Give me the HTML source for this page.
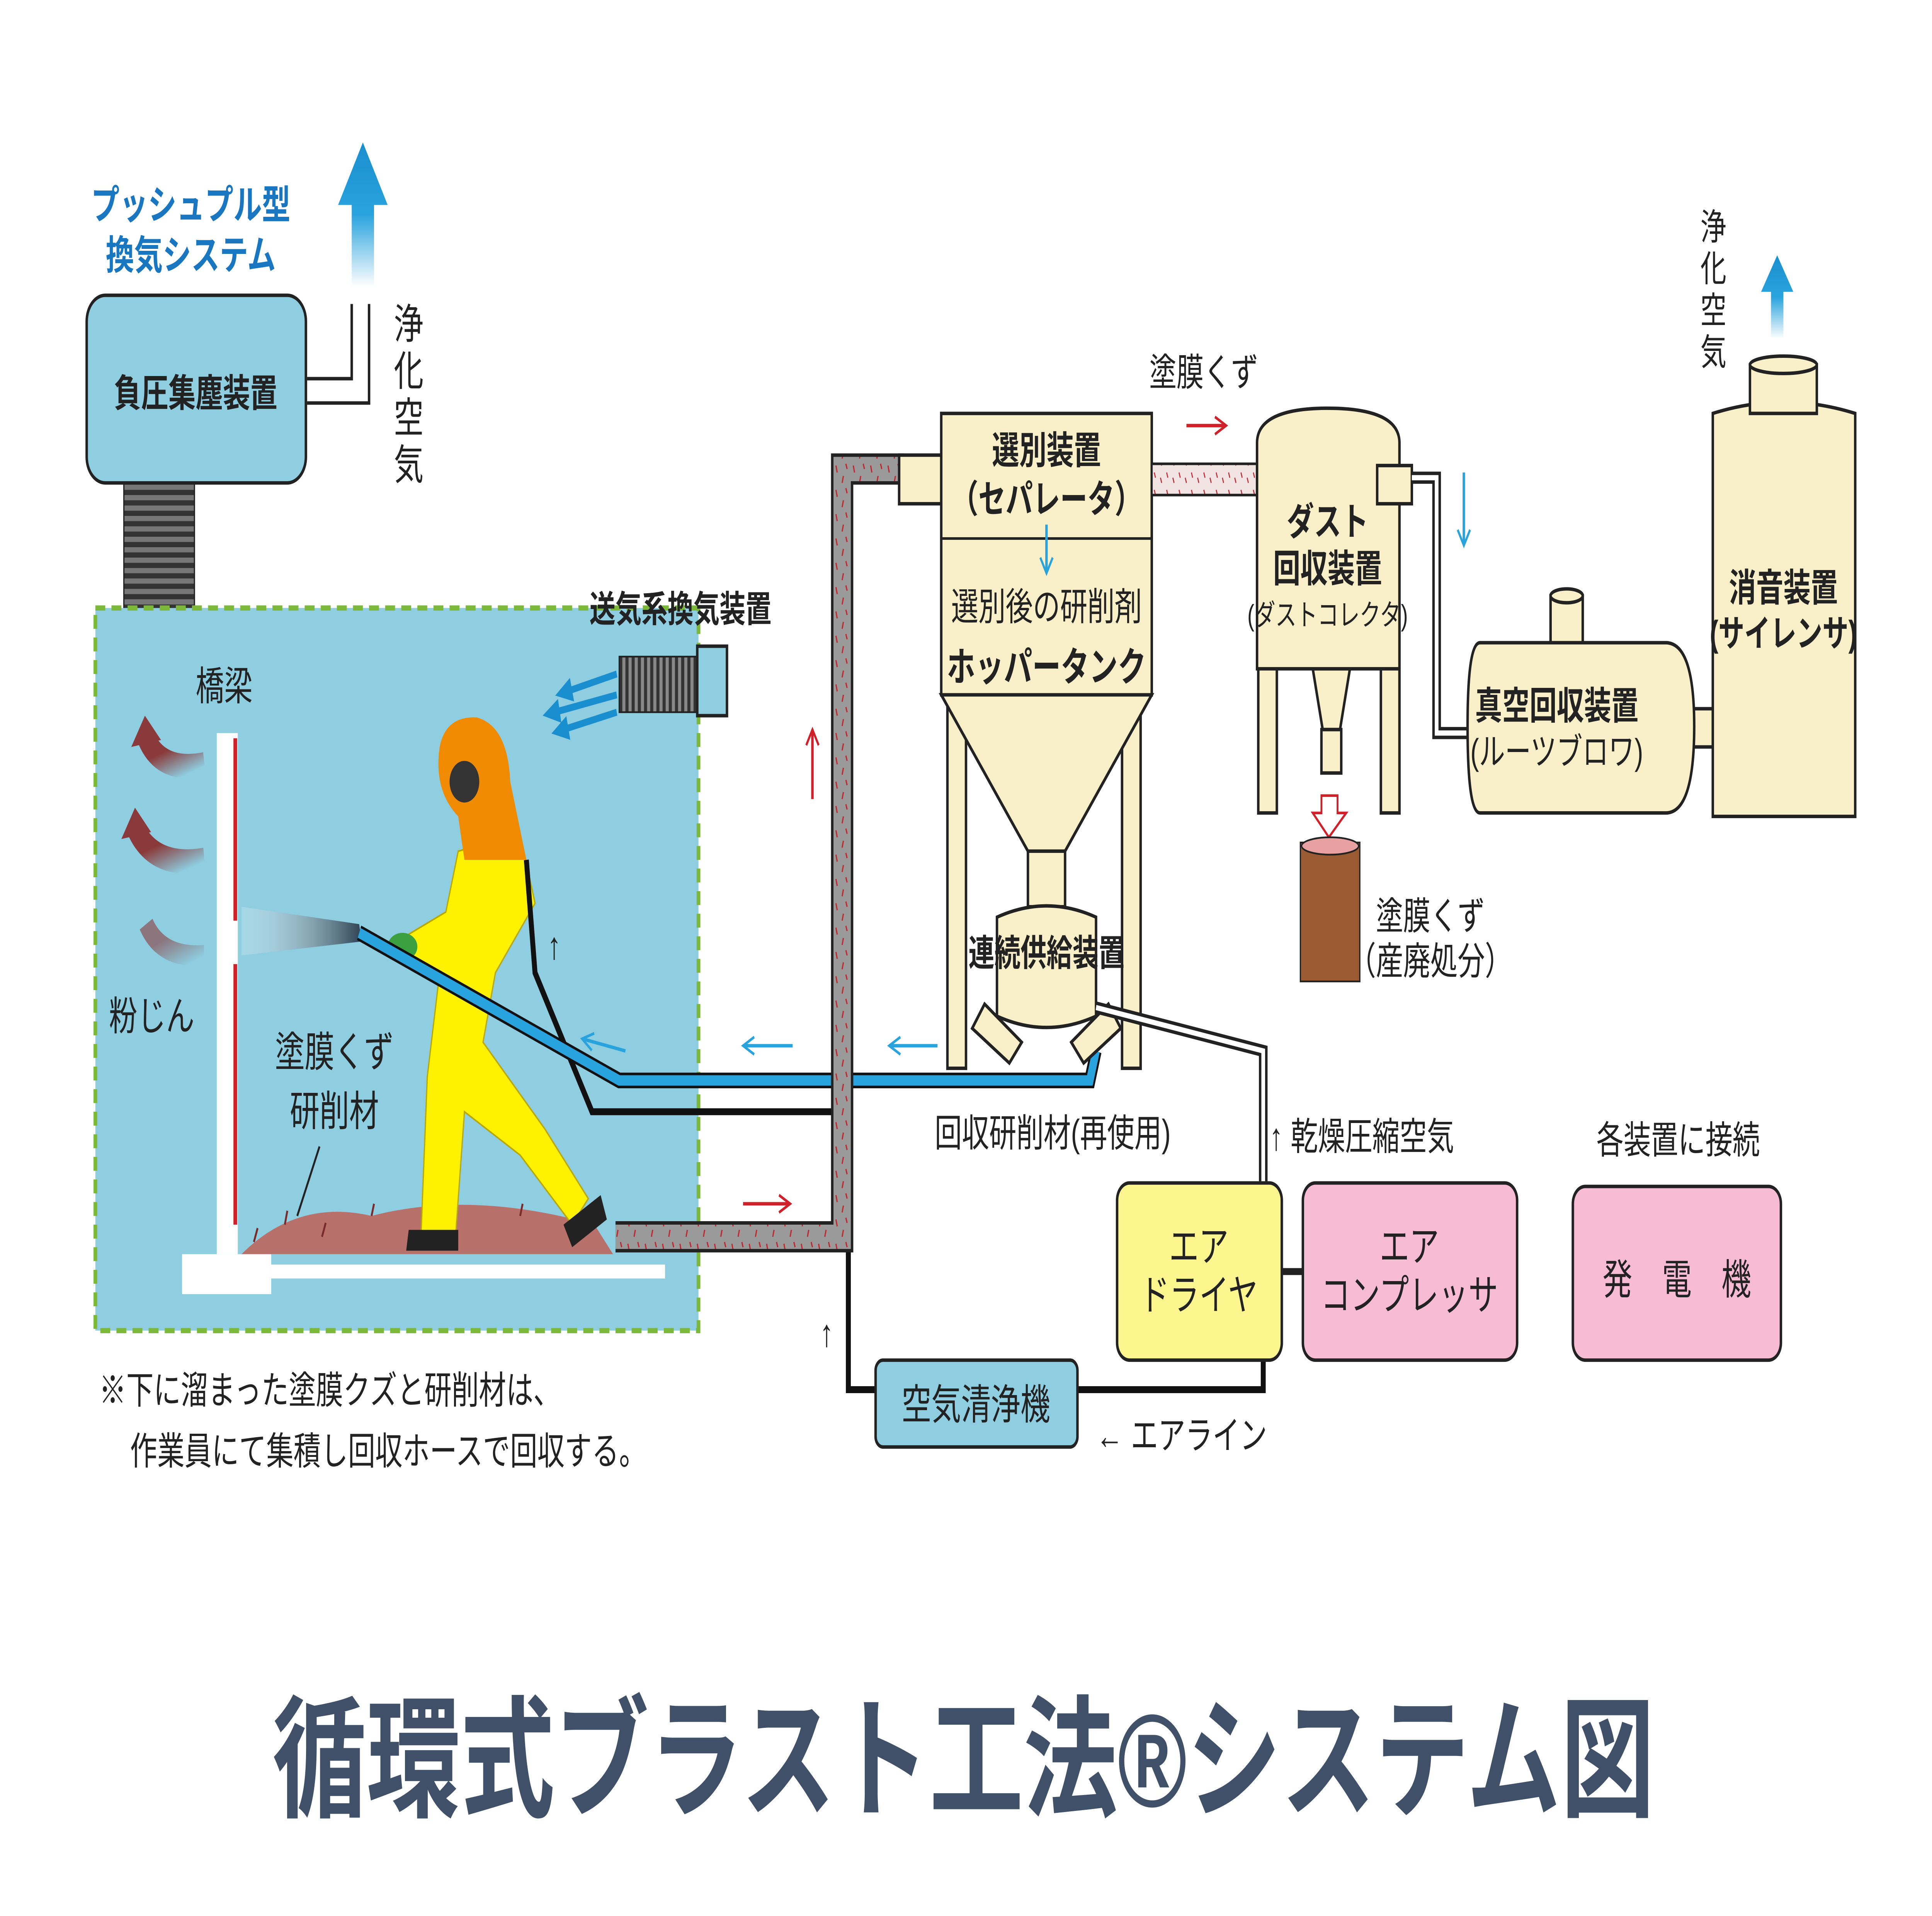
<!DOCTYPE html>
<html><head><meta charset="utf-8">
<style>
html,body{margin:0;padding:0;background:#fff;width:100%;height:100%;overflow:hidden;}
svg{display:block;width:100vw;height:100vh;}
text{font-family:"Liberation Sans","Noto Sans CJK JP",sans-serif;}
</style></head><body>
<svg viewBox="0 0 1560 1103" preserveAspectRatio="none" xmlns="http://www.w3.org/2000/svg">
<defs>
<marker id="ar" markerUnits="userSpaceOnUse" markerWidth="14" markerHeight="14" refX="11" refY="7" orient="auto"><path d="M2,2 L11,7 L2,12" fill="none" stroke="#d0202a" stroke-width="1.6"/></marker>
<marker id="ab" markerUnits="userSpaceOnUse" markerWidth="14" markerHeight="14" refX="11" refY="7" orient="auto"><path d="M2,2 L11,7 L2,12" fill="none" stroke="#29a3dd" stroke-width="1.6"/></marker>
<marker id="abb" markerUnits="userSpaceOnUse" markerWidth="16" markerHeight="16" refX="4" refY="8" orient="auto"><path d="M0,1 L14,8 L0,15 Z" fill="#1a8fd0"/></marker>
<linearGradient id="bluearr" x1="0" y1="1" x2="0" y2="0"><stop offset="0" stop-color="#29a3dd" stop-opacity="0"/><stop offset="0.5" stop-color="#29a3dd"/><stop offset="1" stop-color="#1a8fd0"/></linearGradient>
<linearGradient id="brarr" x1="1" y1="1" x2="0" y2="0"><stop offset="0" stop-color="#8a3a3a" stop-opacity="0"/><stop offset="0.6" stop-color="#8a3a3a"/></linearGradient>
<linearGradient id="spray" x1="0" y1="0" x2="1" y2="0"><stop offset="0" stop-color="#fff" stop-opacity="0.2"/><stop offset="1" stop-color="#234" stop-opacity="0.9"/></linearGradient>
<pattern id="rib" width="6" height="6" patternUnits="userSpaceOnUse"><rect width="6" height="6" fill="#777"/><rect width="6" height="3" fill="#333"/></pattern>
<pattern id="ribv" width="5" height="5" patternUnits="userSpaceOnUse"><rect width="5" height="5" fill="#888"/><rect width="2.5" height="5" fill="#333"/></pattern>
<pattern id="speck" width="14" height="14" patternUnits="userSpaceOnUse"><rect width="14" height="14" fill="#9a9a9a"/><path d="M3,2 l1,4 M9,8 l-1,4 M11,1 l1,3" stroke="#c0282f" stroke-width="1"/></pattern>
<pattern id="pspeck" width="10" height="10" patternUnits="userSpaceOnUse"><rect width="10" height="10" fill="#f3e4e4"/><path d="M2,2 l1,3 M7,5 l1,3" stroke="#c0282f" stroke-width="0.8"/></pattern>
</defs>
<rect width="1560" height="1103" fill="#fff"/>

<text x="154" y="126" font-size="23" font-weight="bold" fill="#1976c0" text-anchor="middle">プッシュプル型</text>
<text x="154" y="155" font-size="23" font-weight="bold" fill="#1976c0" text-anchor="middle">換気システム</text>
<path d="M293,82 L313,118 L302,118 L302,165 L284,165 L284,118 L273,118 Z" fill="url(#bluearr)"/>
<path d="M248,218 L284,218 L284,175 M248,232 L298,232 L298,175" fill="none" stroke="#222" stroke-width="2"/>
<text font-size="24" fill="#222"><tspan x="318" y="195">浄</tspan><tspan x="318" y="222">化</tspan><tspan x="318" y="249">空</tspan><tspan x="318" y="276">気</tspan></text>
<rect x="100" y="278" width="57" height="78" fill="url(#rib)" stroke="#222"/>
<rect x="70" y="170" width="177" height="108" rx="15" fill="#8fcde0" stroke="#222" stroke-width="2"/>
<text x="158" y="234" font-size="22" font-weight="bold" fill="#222" text-anchor="middle">負圧集塵装置</text>

<rect x="77" y="350" width="487" height="416" fill="#8fcde0" stroke="#7cb83a" stroke-width="3" stroke-dasharray="8,5"/>
<text x="476" y="358" font-size="21" font-weight="bold" fill="#222">送気系換気装置</text>
<rect x="500" y="378" width="65" height="32" fill="url(#ribv)" stroke="#222"/>
<rect x="563" y="372" width="24" height="40" fill="#8fcde0" stroke="#222" stroke-width="2"/>
<g stroke="#1a8fd0" stroke-width="4" marker-end="url(#abb)">
<line x1="498" y1="388" x2="458" y2="398"/>
<line x1="498" y1="400" x2="448" y2="410"/>
<line x1="498" y1="410" x2="455" y2="420"/>
</g>
<text x="158" y="403" font-size="23" fill="#222">橋梁</text>
<rect x="175" y="422" width="17" height="300" fill="#fff"/>
<rect x="147" y="722" width="72" height="23" fill="#fff"/>
<rect x="219" y="728" width="318" height="8" fill="#fff"/>
<path d="M190,425 V530 M190,555 V705" stroke="#d0202a" stroke-width="3"/>
<path d="M165,440 Q130,445 118,425" stroke="url(#brarr)" stroke-width="14" fill="none"/>
<path d="M106,430 L117,412 L130,426 Z" fill="#8a3a3a"/>
<path d="M165,495 Q125,500 110,478" stroke="url(#brarr)" stroke-width="14" fill="none"/>
<path d="M98,483 L109,465 L122,479 Z" fill="#8a3a3a"/>
<path d="M165,550 Q130,552 118,532" stroke="url(#brarr)" stroke-width="12" fill="none" opacity="0.6"/>
<text x="88" y="593" font-size="23" fill="#222">粉じん</text>
<path d="M195,522 L290,532 L292,542 L195,550 Z" fill="url(#spray)"/>
<text x="270" y="614" font-size="24" fill="#222" text-anchor="middle">塗膜くず</text>
<text x="270" y="648" font-size="24" fill="#222" text-anchor="middle">研削材</text>
<line x1="258" y1="660" x2="240" y2="700" stroke="#222" stroke-width="1.5"/>
<path d="M195,722 Q240,690 300,700 Q380,685 480,705 L495,722 Z" fill="#b7706a"/>
<path d="M205,715 l3,-8 M230,705 l2,-8 M260,712 l3,-8 M300,700 l2,-7 M350,705 l3,-8 M420,700 l2,-7 M460,708 l3,-7" stroke="#7a2a2a" stroke-width="1.5"/>

<path d="M370,490 L420,480 L432,520 L400,560 L390,600 L440,650 L475,690 L462,705 L420,665 L375,640 L368,710 L340,710 L345,620 L355,560 L330,555 L325,540 L360,525 Z" fill="#fff200" stroke="#b8a800"/>
<path d="M355,430 Q360,412 385,413 Q410,418 412,450 L425,495 L375,495 L370,470 Q350,455 355,430 Z" fill="#f08a00"/>
<circle cx="375" cy="450" r="12" fill="#333"/>
<path d="M330,708 L370,708 L370,720 L328,720 Z M455,705 L485,688 L490,702 L462,718 Z" fill="#222"/>
<ellipse cx="325" cy="545" rx="12" ry="8" fill="#3aa040"/>
<path d="M425,495 L432,560 L455,600 L478,640 L685,640 L685,800 L707,800" fill="none" stroke="#111" stroke-width="4"/>
<path d="M870,800 L1020,800 L1020,783" fill="none" stroke="#111" stroke-width="4"/>
<path d="M290,537 L500,622 L880,622 L885,605" fill="none" stroke="#111" stroke-width="9"/>
<path d="M290,537 L500,622 L880,622 L885,605" fill="none" stroke="#29a3dd" stroke-width="6"/>
<text x="442" y="552" font-size="22" fill="#222">↑</text>

<path d="M497,712 L680,712 L680,270 L730,270" fill="none" stroke="#222" stroke-width="18"/>
<path d="M497,712 L680,712 L680,270 L730,270" fill="none" stroke="url(#speck)" stroke-width="14"/>
<line x1="600" y1="693" x2="638" y2="693" stroke="#d0202a" stroke-width="2" marker-end="url(#ar)"/>
<line x1="656" y1="460" x2="656" y2="420" stroke="#d0202a" stroke-width="2" marker-end="url(#ar)"/>
<line x1="640" y1="602" x2="600" y2="602" stroke="#29a3dd" stroke-width="2" marker-end="url(#ab)"/>
<line x1="757" y1="602" x2="718" y2="602" stroke="#29a3dd" stroke-width="2" marker-end="url(#ab)"/>
<line x1="505" y1="605" x2="470" y2="598" stroke="#29a3dd" stroke-width="2" marker-end="url(#ab)"/>

<g fill="#f9efc8" stroke="#222" stroke-width="2">
<rect x="765" y="400" width="15" height="215"/>
<rect x="906" y="400" width="15" height="215"/>
<path d="M760,400 L930,400 L860,490 L830,490 Z"/>
<rect x="830" y="490" width="30" height="32"/>
<rect x="726" y="262" width="36" height="28"/>
<rect x="760" y="238" width="170" height="162"/>
<path d="M805,528 Q845,515 885,528 L885,585 Q845,598 805,585 Z"/>
<path d="M795,578 L825,600 L815,612 L785,592 Z M895,578 L865,600 L875,612 L905,592 Z"/>
</g>
<line x1="760" y1="310" x2="930" y2="310" stroke="#222" stroke-width="1.5"/>
<text x="845" y="267" font-size="22" font-weight="bold" fill="#222" text-anchor="middle">選別装置</text>
<text x="845" y="295" font-size="22" font-weight="bold" fill="#222" text-anchor="middle">（セパレータ）</text>
<line x1="845" y1="302" x2="845" y2="330" stroke="#29a3dd" stroke-width="2" marker-end="url(#ab)"/>
<text x="845" y="357" font-size="22" fill="#222" text-anchor="middle">選別後の研削剤</text>
<text x="845" y="392" font-size="23" font-weight="bold" fill="#222" text-anchor="middle">ホッパータンク</text>
<text x="845" y="556" font-size="21" font-weight="bold" fill="#222" text-anchor="middle">連続供給装置</text>
<text x="850" y="660" font-size="22" fill="#222" text-anchor="middle">回収研削材(再使用)</text>
<path d="M885,580 L1020,605 L1020,680" fill="none" stroke="#222" stroke-width="7"/>
<path d="M885,580 L1020,605 L1020,680" fill="none" stroke="#fff" stroke-width="3"/>
<text x="1025" y="662" font-size="22" fill="#222">↑ 乾燥圧縮空気</text>

<rect x="930" y="267" width="88" height="18" fill="url(#pspeck)" stroke="#222" stroke-width="1.5"/>
<text x="972" y="222" font-size="22" fill="#222" text-anchor="middle">塗膜くず</text>
<line x1="958" y1="245" x2="990" y2="245" stroke="#d0202a" stroke-width="2" marker-end="url(#ar)"/>

<g fill="#f9efc8" stroke="#222" stroke-width="2">
<rect x="1016" y="380" width="15" height="88"/>
<rect x="1115" y="380" width="15" height="88"/>
<path d="M1060,385 L1090,385 L1082,420 L1068,420 Z"/>
<rect x="1067" y="420" width="16" height="25"/>
<path d="M1015,255 Q1015,235 1072,235 Q1130,235 1130,255 L1130,385 L1015,385 Z"/>
<rect x="1112" y="268" width="28" height="22"/>
</g>
<text x="1072" y="308" font-size="22" font-weight="bold" fill="#222" text-anchor="middle">ダスト</text>
<text x="1072" y="335" font-size="22" font-weight="bold" fill="#222" text-anchor="middle">回収装置</text>
<text x="1072" y="360" font-size="17" fill="#222" text-anchor="middle">(ダストコレクタ)</text>
<path d="M1140,275 L1160,275 L1160,422 L1185,422" fill="none" stroke="#222" stroke-width="7"/>
<path d="M1140,275 L1160,275 L1160,422 L1185,422" fill="none" stroke="#fff" stroke-width="3"/>
<line x1="1182" y1="272" x2="1182" y2="314" stroke="#29a3dd" stroke-width="2" marker-end="url(#ab)"/>
<path d="M1067,458 L1080,458 L1080,468 L1087,468 L1073,482 L1060,468 L1067,468 Z" fill="#fff" stroke="#d0202a" stroke-width="1.5"/>
<path d="M1050,485 L1098,485 L1098,565 L1050,565 Z" fill="#9a5a32" stroke="#222"/>
<ellipse cx="1074" cy="487" rx="23" ry="5" fill="#e8a0a0" stroke="#222"/>
<text x="1155" y="535" font-size="22" fill="#222" text-anchor="middle">塗膜くず</text>
<text x="1155" y="561" font-size="22" fill="#222" text-anchor="middle">（産廃処分）</text>

<g fill="#f9efc8" stroke="#222" stroke-width="2">
<rect x="1252" y="343" width="26" height="30"/>
<ellipse cx="1265" cy="343" rx="13" ry="4"/>
<rect x="1352" y="408" width="34" height="22"/>
<path d="M1195,370 L1345,370 Q1368,370 1368,418 Q1368,468 1345,468 L1195,468 Q1185,468 1185,418 Q1185,370 1195,370 Z"/>
</g>
<text x="1257" y="414" font-size="22" font-weight="bold" fill="#222" text-anchor="middle">真空回収装置</text>
<text x="1257" y="440" font-size="21" fill="#222" text-anchor="middle">(ルーツブロワ)</text>

<g fill="#f9efc8" stroke="#222" stroke-width="2">
<path d="M1383,238 Q1440,225 1498,238 L1498,470 L1383,470 Z"/>
<rect x="1413" y="210" width="54" height="28"/>
<ellipse cx="1440" cy="210" rx="27" ry="5"/>
</g>
<text x="1440" y="346" font-size="22" font-weight="bold" fill="#222" text-anchor="middle">消音装置</text>
<text x="1440" y="372" font-size="21" font-weight="bold" fill="#222" text-anchor="middle">(サイレンサ)</text>
<path d="M1435,147 L1448,168 L1440,168 L1440,195 L1430,195 L1430,168 L1422,168 Z" fill="url(#bluearr)"/>
<text font-size="21" fill="#222"><tspan x="1373" y="138">浄</tspan><tspan x="1373" y="162">化</tspan><tspan x="1373" y="186">空</tspan><tspan x="1373" y="210">気</tspan></text>

<rect x="902" y="681" width="133" height="102" rx="10" fill="#fdf68f" stroke="#222" stroke-width="2"/>
<text x="968" y="726" font-size="24" fill="#222" text-anchor="middle">エア</text>
<text x="968" y="754" font-size="24" fill="#222" text-anchor="middle">ドライヤ</text>
<line x1="1035" y1="732" x2="1052" y2="732" stroke="#222" stroke-width="4"/>
<rect x="1052" y="681" width="173" height="102" rx="10" fill="#f8bcd2" stroke="#222" stroke-width="2"/>
<text x="1138" y="726" font-size="24" fill="#222" text-anchor="middle">エア</text>
<text x="1138" y="754" font-size="24" fill="#222" text-anchor="middle">コンプレッサ</text>
<text x="1355" y="664" font-size="22" fill="#222" text-anchor="middle">各装置に接続</text>
<rect x="1270" y="683" width="168" height="100" rx="10" fill="#f8bcd2" stroke="#222" stroke-width="2"/>
<text x="1354" y="745" font-size="24" fill="#222" text-anchor="middle">発　電　機</text>
<rect x="707" y="783" width="163" height="50" rx="6" fill="#8fcde0" stroke="#222" stroke-width="2"/>
<text x="788" y="817" font-size="24" fill="#222" text-anchor="middle">空気清浄機</text>
<text x="885" y="834" font-size="22" fill="#222">←  エアライン</text>
<text x="662" y="775" font-size="22" fill="#222">↑</text>

<text x="80" y="808" font-size="22" fill="#222">※下に溜まった塗膜クズと研削材は、</text>
<text x="105" y="843" font-size="22" fill="#222">作業員にて集積し回収ホースで回収する。</text>

<text x="778" y="1040" font-size="76" font-weight="bold" fill="#3f5068" text-anchor="middle">循環式ブラスト工法®システム図</text>
</svg>
</body></html>
